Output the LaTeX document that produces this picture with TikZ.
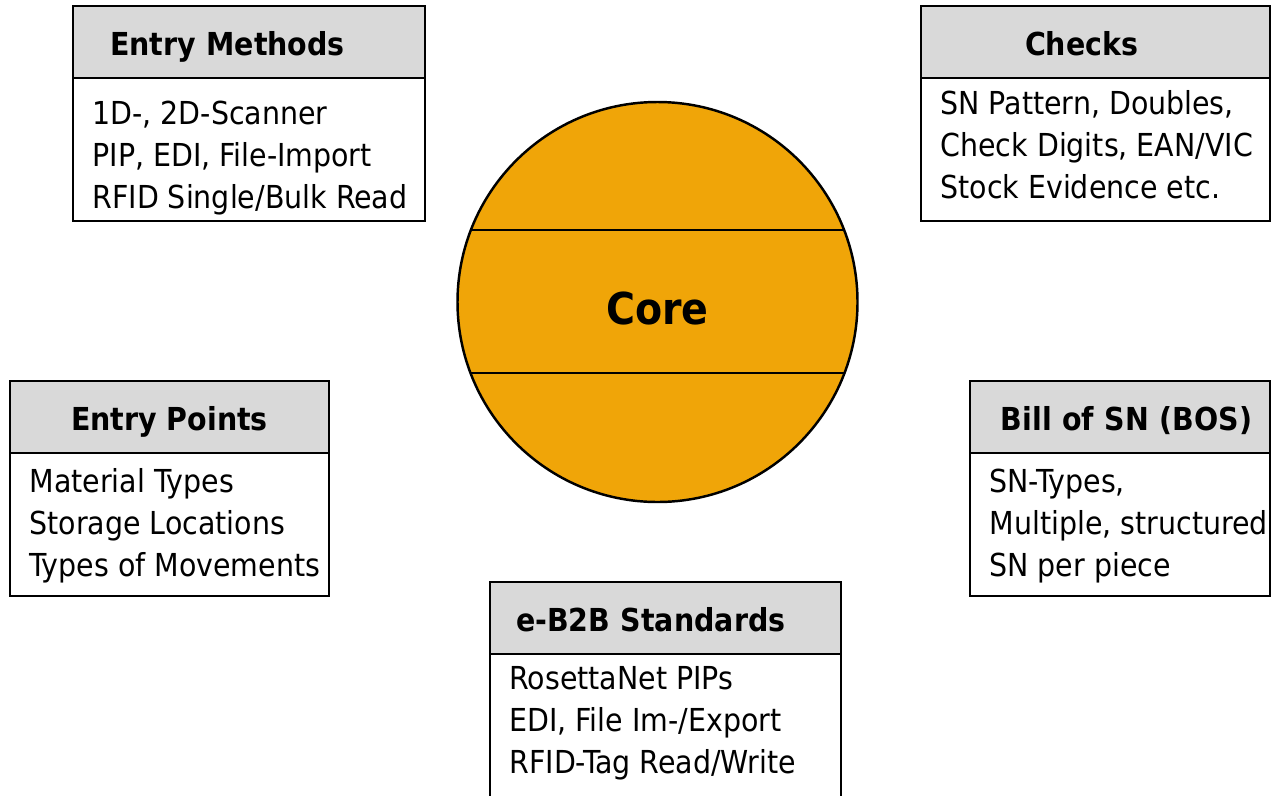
\documentclass[tikz,border=0pt]{standalone}
\usepackage{fontspec}
\setmainfont{DejaVu Sans Condensed}
\usetikzlibrary{positioning,calc}
\definecolor{headgray}{RGB}{217,217,217}
\definecolor{coreorange}{RGB}{240,165,8}
\hyphenpenalty=10000
\exhyphenpenalty=10000
\newcommand\fixedspaces{\spaceskip=\fontdimen2\font\relax\xspaceskip=\fontdimen2\font\relax}

\begin{document}
\begin{tikzpicture}
        [box/.style={draw, line width=1.1pt, outer sep=0pt, inner ysep=0pt},
        head/.style={box, fill=headgray, minimum height=1.44cm, text height=0.54cm, text depth=0pt,
            font=\fontsize{18}{24}\selectfont\bfseries},
        body/.style={box, fill=white, minimum height=2.86cm, inner xsep=0.39cm, align=flush left, text height=0.5cm,
            font=\fontsize{18}{23.9}\selectfont\fixedspaces},
        core/.style={circle, draw, line width=1.4pt, fill=coreorange, minimum size=8cm, inner sep=0pt, outer sep=0pt,
            font=\fontsize{25}{30}\selectfont\bfseries, text height=0.92cm},
        chord/.style={line width=1.2pt}]

        \useasboundingbox (0,0) rectangle (25.44,-15.9);

        % centre
        \node[core] (core) at (13.15,-6.04) {Core};
        \draw[chord] ($(core)+(158.9:4cm)$) -- ($(core)+(21.1:4cm)$);
        \draw[chord] ($(core)+(200.8:4cm)$) -- ($(core)+(-20.8:4cm)$);

        % top left
        \node[head, anchor=north west, minimum width=7.04cm, inner xsep=0.74cm, text width=5.56cm, align=left] (emhead) at (1.46,-0.12) {Entry Methods};
        \node[body, below=0pt of emhead, text width=6.26cm, text depth=1.5cm] (embody)
            {1D-,~2D-Scanner\\PIP,~EDI,~File-Import\\RFID~Single/Bulk~Read};

        % top right
        \node[head, anchor=north west, minimum width=6.98cm, inner xsep=2.08cm, text width=2.82cm, align=left] (chhead) at (18.42,-0.12) {Checks};
        \node[body, below=0pt of chhead, text width=6.20cm, text depth=1.9cm] (chbody)
            {SN~Pattern,~Doubles,\\Check~Digits,~EAN/VIC\\Stock~Evidence~etc.};

        % left
        \node[head, anchor=north west, minimum width=6.38cm] (ephead) at (0.20,-7.62) {Entry Points};
        \node[body, below=0pt of ephead, text width=5.60cm, text depth=1.8cm] (epbody)
            {Material~Types\\Storage~Locations\\Types~of~Movements};

        % right
        \node[head, anchor=north west, minimum width=6.00cm, inner xsep=0.36cm, text width=5.28cm, align=right] (bshead) at (19.40,-7.62) {Bill of SN (BOS)};
        \node[body, below=0pt of bshead, text width=5.22cm, text depth=1.8cm] (bsbody)
            {SN-Types,\\Multiple,~structured\\SN~per~piece};

        % bottom
        \node[head, anchor=north west, minimum width=7.02cm, inner xsep=0.52cm, text width=5.98cm, align=left] (bbhead) at (9.80,-11.64) {e-B2B Standards};
        \node[body, below=0pt of bbhead, text width=6.24cm, text depth=1.94cm] (bbbody)
            {RosettaNet~PIPs\\EDI,~File~Im-/Export\\RFID-Tag~Read/Write};

\end{tikzpicture}
\end{document}
